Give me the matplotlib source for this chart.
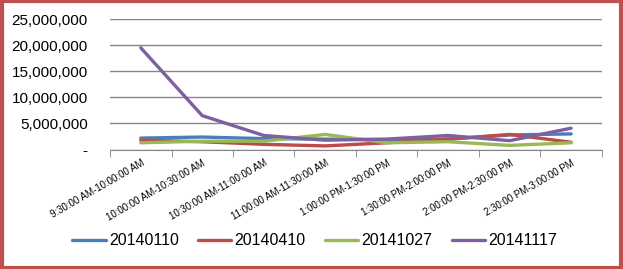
import matplotlib.pyplot as plt
from matplotlib.patches import Rectangle
from matplotlib.ticker import FuncFormatter, FixedLocator

plt.rcParams["font.family"] = ["Liberation Sans", "DejaVu Sans"]

# ---------------------------------------------------------------------------
# Data
# ---------------------------------------------------------------------------
categories = [
    "9:30:00 AM-10:00:00 AM",
    "10:00:00 AM-10:30:00 AM",
    "10:30:00 AM-11:00:00 AM",
    "11:00:00 AM-11:30:00 AM",
    "1:00:00 PM-1:30:00 PM",
    "1:30:00 PM-2:00:00 PM",
    "2:00:00 PM-2:30:00 PM",
    "2:30:00 PM-3:00:00 PM",
]
series_names = ["20140110", "20140410", "20141027", "20141117"]
s_20140110 = [2200000, 2400000, 2100000, 2000000, 1900000, 2000000, 2800000, 3000000]
s_20140410 = [1800000, 1500000, 1000000, 700000, 1300000, 2000000, 2900000, 1400000]
s_20141027 = [1300000, 1600000, 1600000, 2900000, 1300000, 1500000, 800000, 1300000]
s_20141117 = [19500000, 6500000, 2700000, 1800000, 2000000, 2700000, 1700000, 4100000]
colors = ["#4A7EBB", "#BE4B48", "#98B954", "#7D60A0"]

# ---------------------------------------------------------------------------
# Plot
# ---------------------------------------------------------------------------
fig = plt.figure(figsize=(6.23, 2.69), dpi=100)
ax = fig.add_axes([0.1766, 0.444, 0.7895, 0.485])

x = list(range(len(categories)))
for name, vals, c in zip(series_names,
                         [s_20140110, s_20140410, s_20141027, s_20141117],
                         colors):
    ax.plot(x, vals, color=c, lw=2.4, label=name, solid_capstyle="round")

ax.set_xlim(-0.5, len(categories) - 0.5)
ax.set_ylim(0, 25000000)
ax.set_yticks(range(0, 25000001, 5000000))
ax.yaxis.set_major_formatter(
    FuncFormatter(lambda v, p: "-" if v == 0 else f"{v:,.0f}"))
ax.grid(axis="y", color="#868686", lw=1)
ax.set_axisbelow(True)

ax.set_xticks(x)
ax.set_xticklabels(categories, rotation=30, ha="right",
                   rotation_mode="anchor", fontsize=7)
ax.xaxis.set_minor_locator(FixedLocator([i - 0.5 for i in range(len(categories) + 1)]))
ax.tick_params(axis="x", which="major", length=0, pad=6)
ax.tick_params(axis="x", which="minor", length=5, color="#868686", direction="out")
ax.tick_params(axis="y", length=0, labelsize=11, pad=16)

for side in ["top", "right", "left"]:
    ax.spines[side].set_visible(False)
ax.spines["bottom"].set_color("#868686")

fig.legend(loc="center", bbox_to_anchor=(0.505, 0.105), ncol=4, frameon=False,
           fontsize=11.5, handlelength=2.1, handletextpad=0.2, columnspacing=1.2)

# red outer border
fig.patches.append(Rectangle((0.003, 0.005), 0.994, 0.99, transform=fig.transFigure,
                             fill=False, edgecolor="#C0504D", lw=3))

fig.savefig("out.png", dpi=100)
